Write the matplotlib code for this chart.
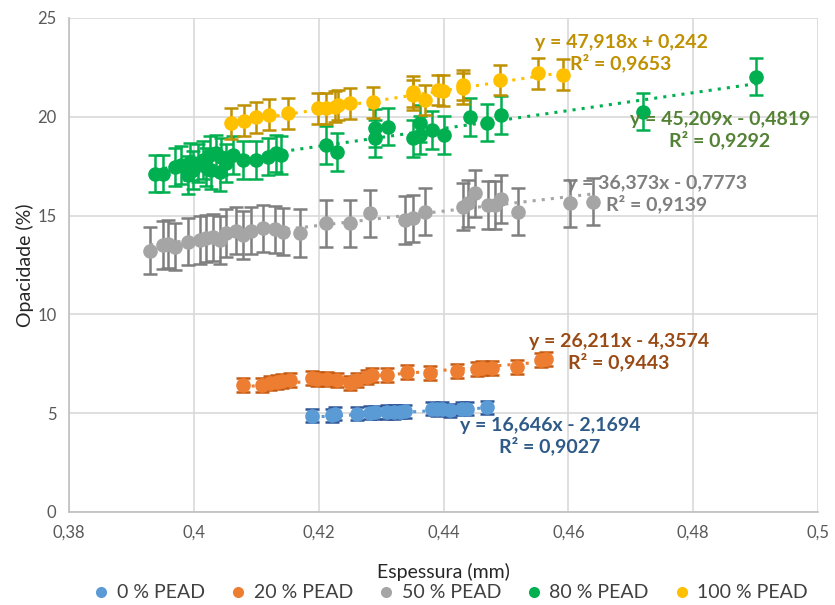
import matplotlib
matplotlib.use("Agg")
import matplotlib.pyplot as plt
from matplotlib.lines import Line2D
import numpy as np

plt.rcParams['font.family'] = ['Lato', 'DejaVu Sans']

labels = ["0 % PEAD", "20 % PEAD", "50 % PEAD", "80 % PEAD", "100 % PEAD"]

x0 = [0.419, 0.4221, 0.4226, 0.4261, 0.4282, 0.429, 0.431, 0.432, 0.433, 0.4338,
      0.4381, 0.439, 0.4397, 0.441, 0.4429, 0.4438, 0.447]
y0 = [4.86, 4.90, 4.97, 4.97, 5.02, 5.04, 5.06, 5.06, 5.08, 5.10,
      5.22, 5.20, 5.22, 5.16, 5.22, 5.22, 5.31]
e0 = 0.33

x20 = [0.4078, 0.411, 0.4122, 0.4133, 0.4142, 0.4154, 0.4189, 0.4198, 0.4213, 0.4229,
       0.425, 0.4261, 0.4277, 0.4286, 0.431, 0.4341, 0.4378, 0.4421, 0.4453, 0.4462,
       0.4478, 0.4518, 0.4557, 0.4565]
y20 = [6.43, 6.43, 6.53, 6.58, 6.63, 6.68, 6.78, 6.73, 6.73, 6.68,
       6.53, 6.68, 6.83, 6.93, 6.93, 7.09, 7.04, 7.14, 7.24, 7.29,
       7.29, 7.34, 7.69, 7.74]
e20 = 0.34

x50 = [0.393, 0.395, 0.3959, 0.397, 0.3991, 0.401, 0.402, 0.4031, 0.4042, 0.4052,
       0.4068, 0.4079, 0.4092, 0.4111, 0.413, 0.4143, 0.417, 0.4211, 0.425, 0.4282,
       0.4338, 0.4351, 0.437, 0.4431, 0.4439, 0.445, 0.4471, 0.4482, 0.4492, 0.4519,
       0.4602, 0.4639]
y50 = [13.22, 13.51, 13.56, 13.43, 13.68, 13.77, 13.85, 13.90, 13.77, 14.13,
       14.24, 14.02, 14.24, 14.36, 14.31, 14.19, 14.13, 14.61, 14.61, 15.12,
       14.78, 14.86, 15.20, 15.45, 15.62, 16.13, 15.54, 15.54, 15.83, 15.20,
       15.62, 15.70]
e50 = 1.2

x80 = [0.3938, 0.3951, 0.397, 0.398, 0.3991, 0.3994, 0.3999, 0.4007, 0.4015, 0.402,
       0.4026, 0.4028, 0.4036, 0.4042, 0.4044, 0.4052, 0.4063, 0.4079, 0.410, 0.4119,
       0.4132, 0.414, 0.4211, 0.4229, 0.429, 0.429, 0.4311, 0.4351, 0.4362, 0.4362,
       0.4381, 0.440, 0.4442, 0.447, 0.4492, 0.472, 0.4901]
y80 = [17.13, 17.13, 17.47, 17.56, 17.05, 17.73, 17.31, 17.65, 17.81, 17.47,
       18.07, 17.31, 18.15, 17.22, 17.98, 17.65, 18.07, 17.81, 17.81, 17.98,
       18.15, 18.07, 18.57, 18.23, 18.91, 19.42, 19.50, 18.91, 19.67, 19.08,
       19.33, 19.08, 20.00, 19.71, 20.09, 20.26, 22.03]
e80 = 0.95

x100 = [0.406, 0.408, 0.410, 0.412, 0.4151, 0.4199, 0.4212, 0.4226, 0.4231, 0.425,
        0.4287, 0.4351, 0.4351, 0.437, 0.4391, 0.4399, 0.4431, 0.4431, 0.449, 0.4551,
        0.4591]
y100 = [19.67, 19.80, 19.97, 20.10, 20.18, 20.43, 20.43, 20.51, 20.60, 20.68,
        20.73, 21.10, 21.27, 20.85, 21.36, 21.32, 21.61, 21.44, 21.86, 22.20,
        22.12]
e100 = 0.78

slopes = [16.646, 26.211, 36.373, 45.209, 47.918]
intercepts = [-2.1694, -4.3574, -0.7773, -0.4819, 0.242]
eq_texts = ["y = 16,646x - 2,1694\nR² = 0,9027",
            "y = 26,211x - 4,3574\nR² = 0,9443",
            "y = 36,373x - 0,7773\nR² = 0,9139",
            "y = 45,209x - 0,4819\nR² = 0,9292",
            "y = 47,918x + 0,242\nR² = 0,9653"]

xs = [x0, x20, x50, x80, x100]
ys = [y0, y20, y50, y80, y100]
es = [e0, e20, e50, e80, e100]
mcolors = ['#5B9BD5', '#ED7D31', '#A5A5A5', '#00B050', '#FFC000']
ecolors = ['#2F5597', '#C55A11', '#7F7F7F', '#00B050', '#BF9000']
tcolors = ['#2E5A88', '#9A4A14', '#7F7F7F', '#548235', '#BF9000']
eq_pos = [(550, 436), (619, 352), (657, 194), (720, 130), (621, 53)]

W, H = 835, 605
fig = plt.figure(figsize=(W / 100, H / 100), dpi=100)
ax = fig.add_axes([69 / W, 1 - 512 / H, (818 - 69) / W, (512 - 18) / H])

for i in range(5):
    x = np.array(xs[i]); y = np.array(ys[i])
    ax.errorbar(x, y, yerr=es[i], fmt='o', color=mcolors[i], ecolor=ecolors[i],
                elinewidth=1.8, capsize=5, capthick=1.8, markersize=9.5,
                mec=mcolors[i], zorder=3 + i * 0.1)
    xl = np.array([x.min(), x.max()])
    ax.plot(xl, slopes[i] * xl + intercepts[i], linestyle=(0, (1, 2)),
            color=mcolors[i], linewidth=2.2, zorder=4 + i * 0.1)

for i in range(5):
    px, py = eq_pos[i]
    fig.text(px / W, 1 - py / H, eq_texts[i], color=tcolors[i], fontsize=14,
             fontweight='bold', ha='center', va='center', linespacing=1.15,
             zorder=10)

ax.set_xlim(0.38, 0.5)
ax.set_ylim(0, 25)
xt = [0.38, 0.40, 0.42, 0.44, 0.46, 0.48, 0.50]
ax.set_xticks(xt)
ax.set_xticklabels(["0,38", "0,4", "0,42", "0,44", "0,46", "0,48", "0,5"])
ax.set_yticks([0, 5, 10, 15, 20, 25])
ax.grid(True, color='#D9D9D9', linewidth=1.2)
ax.set_axisbelow(True)
for s in ['top', 'right']:
    ax.spines[s].set_visible(False)
for s in ['left', 'bottom']:
    ax.spines[s].set_color('#BFBFBF')
    ax.spines[s].set_linewidth(1.2)
ax.tick_params(length=0, labelsize=12, colors='#595959', pad=9)
ax.set_xlabel("Espessura (mm)", fontsize=14, color='#262626', labelpad=16)
ax.set_ylabel("Opacidade (%)", fontsize=14, color='#262626', labelpad=2)

handles = [Line2D([], [], marker='o', linestyle='none', color=c, markersize=8,
                  markeredgewidth=0) for c in mcolors]
fig.legend(handles, labels, loc='center', bbox_to_anchor=(0.54, 1 - 593 / H),
           ncol=5, frameon=False, fontsize=14, handlelength=0.8,
           handletextpad=0.4, columnspacing=1.3, labelcolor='#404040')

fig.savefig("out.png", dpi=100)
